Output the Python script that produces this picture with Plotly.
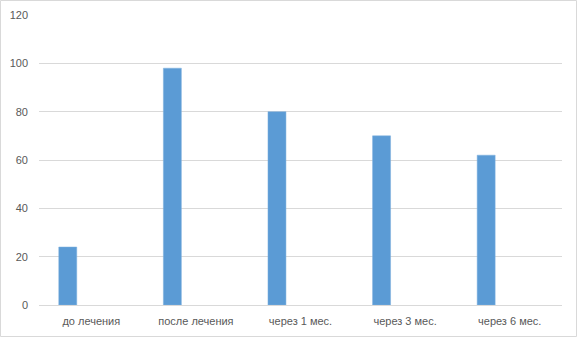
import plotly.graph_objects as go

categories = ["до лечения", "после лечения", "через 1 мес.", "через 3 мес.", "через 6 мес."]
values = [24, 98, 80, 70, 62]
y_ticks = [0, 20, 40, 60, 80, 100, 120]

W, H = 577, 337
ml, mr, mt, mb = 39, 15, 15, 32
pw, ph = W - ml - mr, H - mt - mb

fig = go.Figure()
fig.add_trace(go.Bar(
    x=categories, y=values,
    marker=dict(color="#5B9BD5", line=dict(color="#7FB0DE", width=0.5)),
    width=0.172, offset=-0.311,
))

fig.update_layout(
    width=W, height=H,
    margin=dict(l=ml, r=mr, t=mt, b=mb, pad=0, autoexpand=False),
    paper_bgcolor="white", plot_bgcolor="white",
    font=dict(family="Liberation Sans, Arial, sans-serif", size=11, color="#595959"),
    showlegend=False,
    xaxis=dict(showgrid=False, showline=True, linecolor="#D9D9D9", linewidth=1,
               automargin=False, ticks="", tickfont=dict(size=11, color="#595959"),
               ticklabelstandoff=6),
    yaxis=dict(range=[0, 120], tickvals=y_ticks, showgrid=True, gridcolor="#D9D9D9",
               gridwidth=1, zeroline=False, showline=False, ticks="", automargin=False,
               tickfont=dict(size=11, color="#595959"), ticklabelstandoff=10),
    shapes=[dict(type="rect", xref="paper", yref="paper",
                 x0=(-ml + 0.5) / pw, x1=1 + (mr - 0.5) / pw,
                 y0=(-mb + 0.5) / ph, y1=1 + (mt - 0.5) / ph,
                 line=dict(color="#D9D9D9", width=1), layer="below")],
)

fig.write_html("out.html", config={"displayModeBar": False},
               post_script="document.body.style.margin='0';document.body.style.overflow='hidden';")
